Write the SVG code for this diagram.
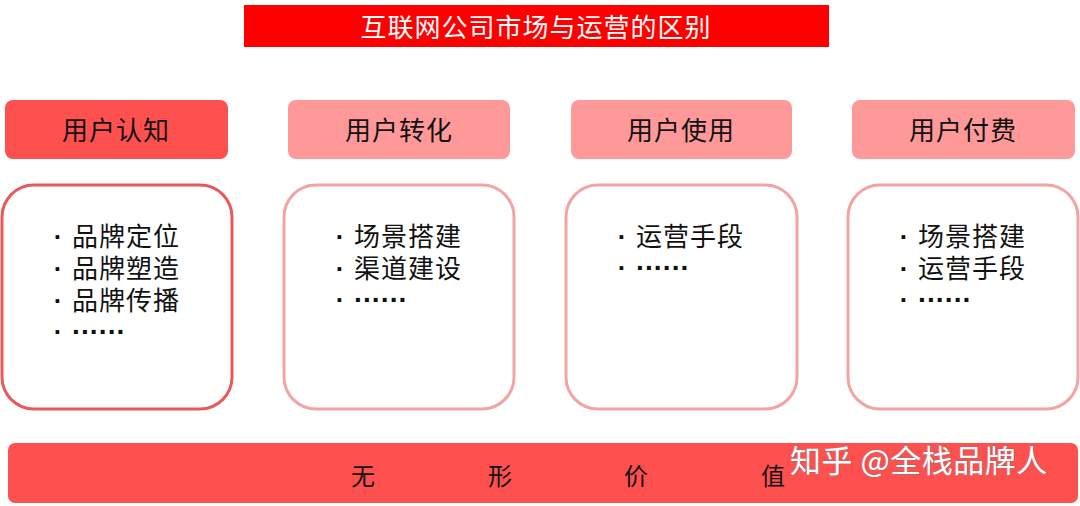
<svg xmlns="http://www.w3.org/2000/svg" width="1080" height="506" viewBox="0 0 1080 506">
<style>
text{font-family:"Noto Sans CJK SC","Noto Sans",sans-serif}
.hd{font-size:26px;fill:#111;text-anchor:middle;letter-spacing:1px}
.li{font-size:26px;fill:#111;letter-spacing:1px}
.dt{font-size:26px;fill:#111;font-family:"Liberation Sans",sans-serif;font-weight:bold;text-anchor:middle}
.el{font-size:28px;fill:#111;font-family:"Liberation Sans",sans-serif;font-weight:bold;letter-spacing:-0.4px}
.h1{fill:#FF5050}
.h2{fill:#FF9999}
.b1{fill:#fff;stroke:#E85A5A;stroke-width:3}
.b2{fill:#fff;stroke:#F4A3A3;stroke-width:3}
.bt{font-size:24px;fill:#111;text-anchor:middle}
</style>
<rect width="1080" height="506" fill="#fff"/>
<g id="title">
<rect x="244" y="5" width="585" height="42" fill="#FF0000"/>
<text x="536" y="37" font-size="26" fill="#fff" text-anchor="middle" letter-spacing="1">互联网公司市场与运营的区别</text>
</g>
<g id="node1">
<rect class="h1" x="5" y="100" width="223" height="59" rx="8"/>
<text class="hd" x="116" y="140">用户认知</text>
<rect class="b1" x="2" y="185" width="230" height="224" rx="32"/>
<text class="dt" x="58" y="246">·</text><text class="li" x="72" y="246">品牌定位</text>
<text class="dt" x="58" y="278">·</text><text class="li" x="72" y="278">品牌塑造</text>
<text class="dt" x="58" y="310">·</text><text class="li" x="72" y="310">品牌传播</text>
<text class="dt" x="58" y="341">·</text><text class="el" x="72" y="341">······</text>
</g>
<g id="node2">
<rect class="h2" x="288" y="100" width="222" height="59" rx="8"/>
<text class="hd" x="399" y="140">用户转化</text>
<rect class="b2" x="284" y="185" width="230" height="224" rx="32"/>
<text class="dt" x="340" y="246">·</text><text class="li" x="354" y="246">场景搭建</text>
<text class="dt" x="340" y="278">·</text><text class="li" x="354" y="278">渠道建设</text>
<text class="dt" x="340" y="309">·</text><text class="el" x="354" y="309">······</text>
</g>
<g id="node3">
<rect class="h2" x="571" y="100" width="221" height="59" rx="8"/>
<text class="hd" x="681" y="140">用户使用</text>
<rect class="b2" x="566" y="185" width="231" height="224" rx="32"/>
<text class="dt" x="622" y="246">·</text><text class="li" x="636" y="246">运营手段</text>
<text class="dt" x="622" y="277">·</text><text class="el" x="636" y="277">······</text>
</g>
<g id="node4">
<rect class="h2" x="852" y="100" width="223" height="59" rx="8"/>
<text class="hd" x="963" y="140">用户付费</text>
<rect class="b2" x="848" y="185" width="230" height="224" rx="32"/>
<text class="dt" x="904" y="246">·</text><text class="li" x="918" y="246">场景搭建</text>
<text class="dt" x="904" y="278">·</text><text class="li" x="918" y="278">运营手段</text>
<text class="dt" x="904" y="309">·</text><text class="el" x="918" y="309">······</text>
</g>
<g id="bottom">
<rect x="8" y="443" width="1070" height="60" rx="7" fill="#FF5050"/>
<text class="bt" x="363" y="485">无</text>
<text class="bt" x="500" y="485">形</text>
<text class="bt" x="636" y="485">价</text>
<text class="bt" x="773" y="485">值</text>
<text x="790" y="472" font-size="31" fill="#fff" stroke="#777" stroke-width="0.7" paint-order="stroke" letter-spacing="0.5">知乎 @全栈品牌人</text>
</g>
<g id="connectors"/>
</svg>
